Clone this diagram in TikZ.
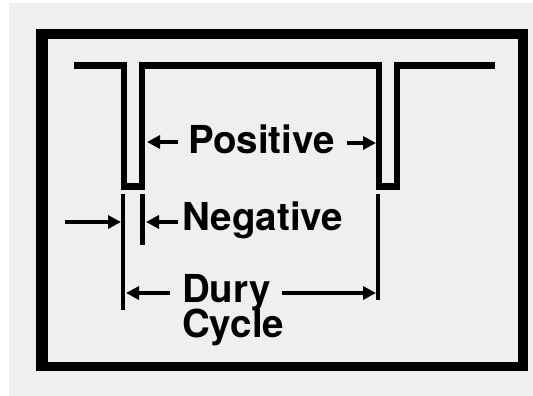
\documentclass[tikz,border=0pt]{standalone}
\usepackage{fontspec}
\setmainfont{TeX Gyre Heros}
\usetikzlibrary{arrows.meta}
\definecolor{bg}{HTML}{EFEFEF}
\tikzset{
  wave/.style={line width=6.5pt, line join=miter, line cap=butt},
  dimline/.style={line width=4pt},
  dimarrow/.style={line width=4.5pt, -{Triangle[length=13pt,width=13pt]}},
  lbl/.style={inner sep=0pt, anchor=base west, font=\fontsize{38.5}{35}\selectfont\bfseries},
}
\begin{document}
\begin{tikzpicture}[x=1pt,y=-1pt]
\useasboundingbox (0,0) rectangle (533,396);
\fill[white] (0,0) rectangle (533,396);
\fill[bg] (9,3) rectangle (533,396);
% frame
\fill[black] (36,29) rectangle (528,371);
\fill[bg] (48,39) rectangle (518,362);
% waveform
\coordinate (w0) at (74,65.5);
\coordinate (w1) at (124,65.5);
\coordinate (w2) at (124,186.5);
\coordinate (w3) at (142,186.5);
\coordinate (w4) at (142,65.5);
\coordinate (w5) at (379,65.5);
\coordinate (w6) at (379,186.5);
\coordinate (w7) at (397,186.5);
\coordinate (w8) at (397,65.5);
\coordinate (w9) at (495,65.5);
\draw[wave] (w0) -- (w1) -- (w2) -- (w3) -- (w4) -- (w5) -- (w6) -- (w7) -- (w8) -- (w9);
% extension lines
\coordinate (e1a) at (123,194); \coordinate (e1b) at (123,310);
\coordinate (e2a) at (142,194); \coordinate (e2b) at (142,245);
\coordinate (e3a) at (378,194); \coordinate (e3b) at (378,300);
\draw[dimline] (e1a) -- (e1b);
\draw[dimline, line width=5pt] (e2a) -- (e2b);
\draw[dimline] (e3a) -- (e3b);
% labels
\node[lbl] (pos) at (188,153) {Positive};
\node[lbl] (neg) at (182,230) {Negative};
\node[lbl] (dury) at (182,302) {Dury};
\node[lbl] (cyc) at (182,337) {Cycle};
% arrows
\coordinate (p1t) at (178,142); \coordinate (p1h) at (147,142);
\coordinate (p2t) at (347,143); \coordinate (p2h) at (376,143);
\coordinate (n1t) at (65,222);  \coordinate (n1h) at (121,222);
\coordinate (n2t) at (178,222); \coordinate (n2h) at (146,222);
\coordinate (d1t) at (170,293); \coordinate (d1h) at (126,293);
\coordinate (d2t) at (282,293); \coordinate (d2h) at (376,293);
\draw[dimarrow] (p1t) -- (p1h);
\draw[dimarrow] (p2t) -- (p2h);
\draw[dimarrow] (n1t) -- (n1h);
\draw[dimarrow] (n2t) -- (n2h);
\draw[dimarrow] (d1t) -- (d1h);
\draw[dimarrow] (d2t) -- (d2h);
\end{tikzpicture}
\end{document}
